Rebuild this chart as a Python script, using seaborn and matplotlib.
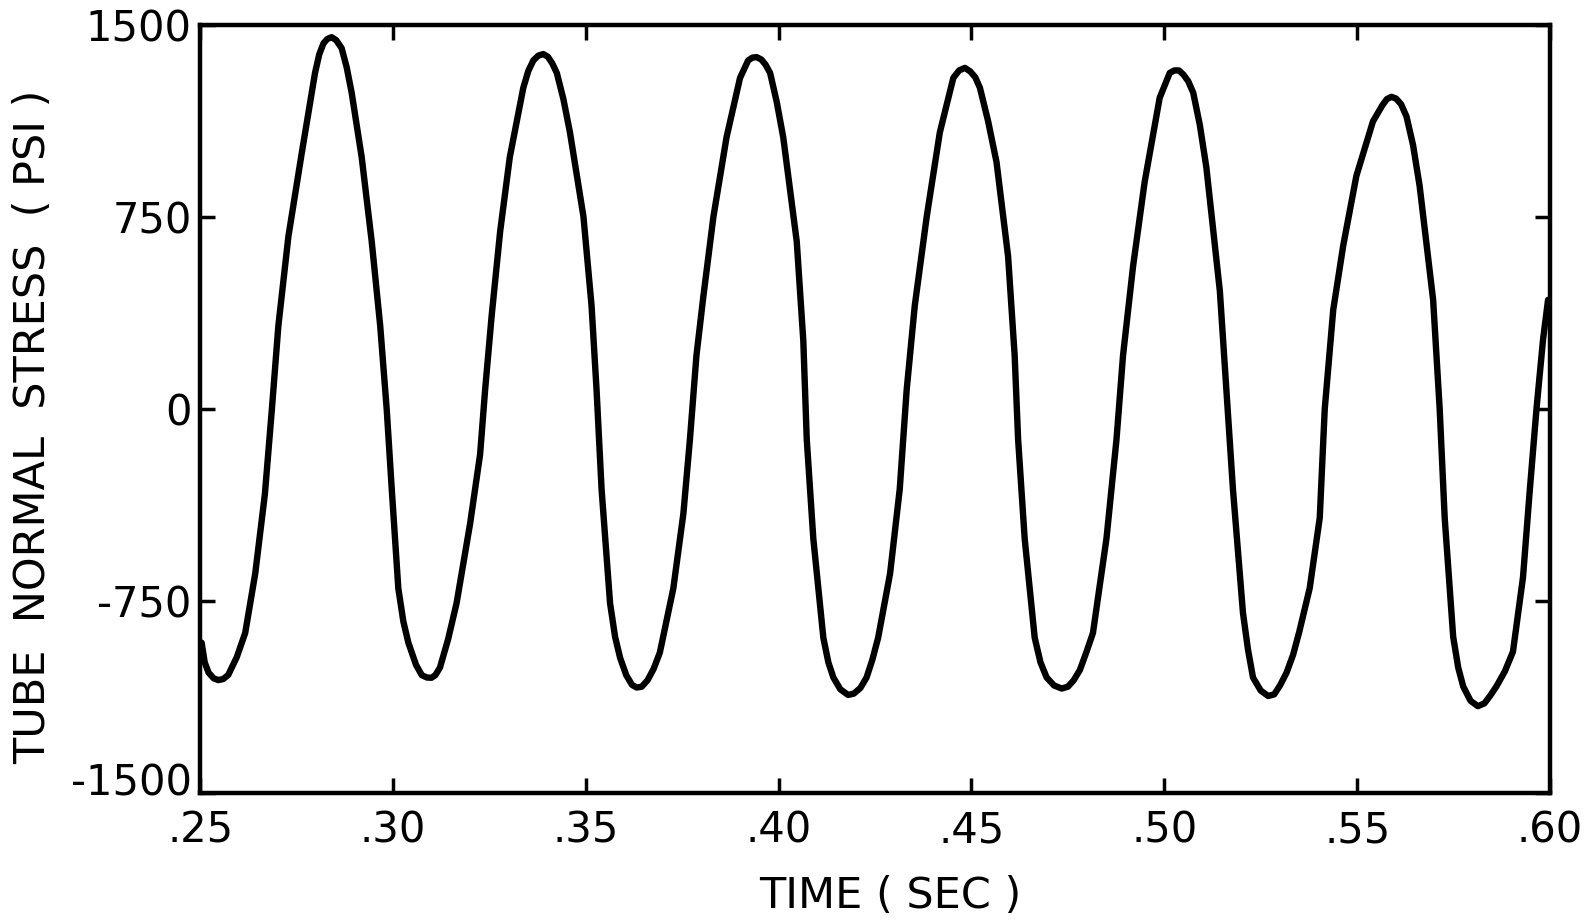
import matplotlib
matplotlib.use("Agg")
import matplotlib.pyplot as plt
from matplotlib.transforms import ScaledTranslation
import seaborn as sns
import pandas as pd

# Time (sec) and tube normal stress (psi)
time_sec = [
    0.2504, 0.2512, 0.2522, 0.2535, 0.2547, 0.2560, 0.2573, 0.2595, 0.2617, 0.2643,
    0.2668, 0.2686, 0.2703, 0.2729, 0.2764, 0.2798, 0.2809, 0.2820, 0.2830, 0.2841,
    0.2853, 0.2867, 0.2880, 0.2893, 0.2919, 0.2945, 0.2967, 0.2984, 0.2997, 0.3014,
    0.3027, 0.3040, 0.3060, 0.3075, 0.3088, 0.3100, 0.3110, 0.3122, 0.3143, 0.3165,
    0.3200, 0.3226, 0.3239, 0.3256, 0.3278, 0.3303, 0.3338, 0.3351, 0.3364, 0.3377,
    0.3390, 0.3402, 0.3413, 0.3425, 0.3442, 0.3459, 0.3494, 0.3515, 0.3528, 0.3541,
    0.3563, 0.3576, 0.3589, 0.3605, 0.3620, 0.3632, 0.3645, 0.3660, 0.3676, 0.3692,
    0.3727, 0.3753, 0.3770, 0.3787, 0.3805, 0.3831, 0.3865, 0.3900, 0.3921, 0.3932,
    0.3943, 0.3955, 0.3966, 0.3978, 0.3995, 0.4012, 0.4047, 0.4064, 0.4073, 0.4090,
    0.4116, 0.4129, 0.4142, 0.4160, 0.4180, 0.4195, 0.4212, 0.4228, 0.4243, 0.4258,
    0.4289, 0.4314, 0.4332, 0.4353, 0.4384, 0.4418, 0.4453, 0.4468, 0.4483, 0.4497,
    0.4510, 0.4522, 0.4543, 0.4565, 0.4595, 0.4612, 0.4621, 0.4638, 0.4664, 0.4679,
    0.4695, 0.4714, 0.4734, 0.4750, 0.4765, 0.4781, 0.4798, 0.4815, 0.4850, 0.4876,
    0.4893, 0.4919, 0.4949, 0.4988, 0.5014, 0.5026, 0.5038, 0.5050, 0.5062, 0.5075,
    0.5092, 0.5109, 0.5144, 0.5161, 0.5178, 0.5204, 0.5217, 0.5230, 0.5250, 0.5269,
    0.5285, 0.5300, 0.5317, 0.5334, 0.5350, 0.5377, 0.5403, 0.5416, 0.5438, 0.5464,
    0.5498, 0.5541, 0.5565, 0.5577, 0.5589, 0.5601, 0.5614, 0.5628, 0.5645, 0.5662,
    0.5697, 0.5714, 0.5727, 0.5749, 0.5762, 0.5775, 0.5794, 0.5813, 0.5830, 0.5845,
    0.5861, 0.5883, 0.5904, 0.5930, 0.5947, 0.5965, 0.5982, 0.5995,
]
stress_psi = [
    -913, -990, -1030, -1052, -1059, -1055, -1039, -970, -875, -643,
    -333, -4, 325, 674, 1003, 1312, 1385, 1428, 1445, 1452,
    1440, 1409, 1335, 1235, 983, 654, 325, -4, -314, -701,
    -830, -913, -1000, -1040, -1049, -1050, -1040, -1010, -900, -759,
    -449, -178, 74, 364, 693, 983, 1254, 1320, 1361, 1380,
    1386, 1375, 1350, 1312, 1210, 1080, 751, 403, 74, -314,
    -759, -890, -972, -1040, -1078, -1088, -1085, -1060, -1015, -952,
    -701, -410, -120, 209, 441, 751, 1061, 1293, 1361, 1372,
    1374, 1365, 1345, 1312, 1200, 1061, 654, 267, -120, -507,
    -894, -990, -1049, -1095, -1117, -1112, -1090, -1049, -980, -894,
    -643, -314, 74, 403, 751, 1080, 1293, 1322, 1332, 1318,
    1295, 1254, 1125, 964, 596, 209, -120, -507, -894, -990,
    -1049, -1080, -1092, -1085, -1060, -1020, -950, -875, -507, -120,
    209, 557, 886, 1215, 1312, 1322, 1322, 1305, 1280, 1235,
    1110, 944, 461, 74, -314, -797, -940, -1049, -1100, -1121,
    -1115, -1080, -1030, -960, -870, -700, -426, 0, 387, 639,
    910, 1123, 1185, 1210, 1219, 1212, 1190, 1142, 1030, 871,
    426, 0, -426, -890, -1010, -1084, -1140, -1161, -1150, -1120,
    -1084, -1025, -948, -658, -329, 0, 271, 426,
]

x_ticks = [0.25, 0.30, 0.35, 0.40, 0.45, 0.50, 0.55, 0.60]
x_tick_labels = [".25", ".30", ".35", ".40", ".45", ".50", ".55", ".60"]
y_ticks = [-1500, -750, 0, 750, 1500]
y_tick_labels = ["-1500", "-750", "0", "750", "1500"]

df = pd.DataFrame({"time": time_sec, "stress": stress_psi})

sns.set_theme(style="ticks")
plt.rcParams["font.family"] = ["DejaVu Sans"]

fig = plt.figure(figsize=(15.93, 9.21), dpi=100)
ax = fig.add_axes([0.1256, 0.139, 0.8474, 0.834])

sns.lineplot(data=df, x="time", y="stress", ax=ax, color="black",
             linewidth=4.6, sort=True, estimator=None,
             solid_joinstyle="round", solid_capstyle="round")

ax.set_xlim(0.25, 0.60)
ax.set_ylim(-1500, 1500)
ax.set_xticks(x_ticks)
ax.set_xticklabels(x_tick_labels)
ax.set_yticks(y_ticks)
ax.set_yticklabels(y_tick_labels)

for sp in ax.spines.values():
    sp.set_visible(True)
    sp.set_linewidth(3.2)
    sp.set_color("black")

ax.tick_params(axis="both", direction="in", length=11, width=2.5,
               top=True, right=True, labelsize=30, colors="black")
ax.tick_params(axis="x", pad=12)
ax.tick_params(axis="y", pad=6)

# lift the bottom y label a little, as in the reference
ylabels = ax.get_yticklabels()
ylabels[0].set_transform(ylabels[0].get_transform() +
                         ScaledTranslation(0, 10 / 72, fig.dpi_scale_trans))

ax.set_xlabel("TIME ( SEC )", fontsize=31, color="black")
ax.set_ylabel("TUBE  NORMAL  STRESS  ( PSI )", fontsize=31, color="black")
ax.xaxis.set_label_coords(0.511, -0.107)
ax.yaxis.set_label_coords(-0.108, 0.477)

fig.savefig("out.png", dpi=100, facecolor="white")
